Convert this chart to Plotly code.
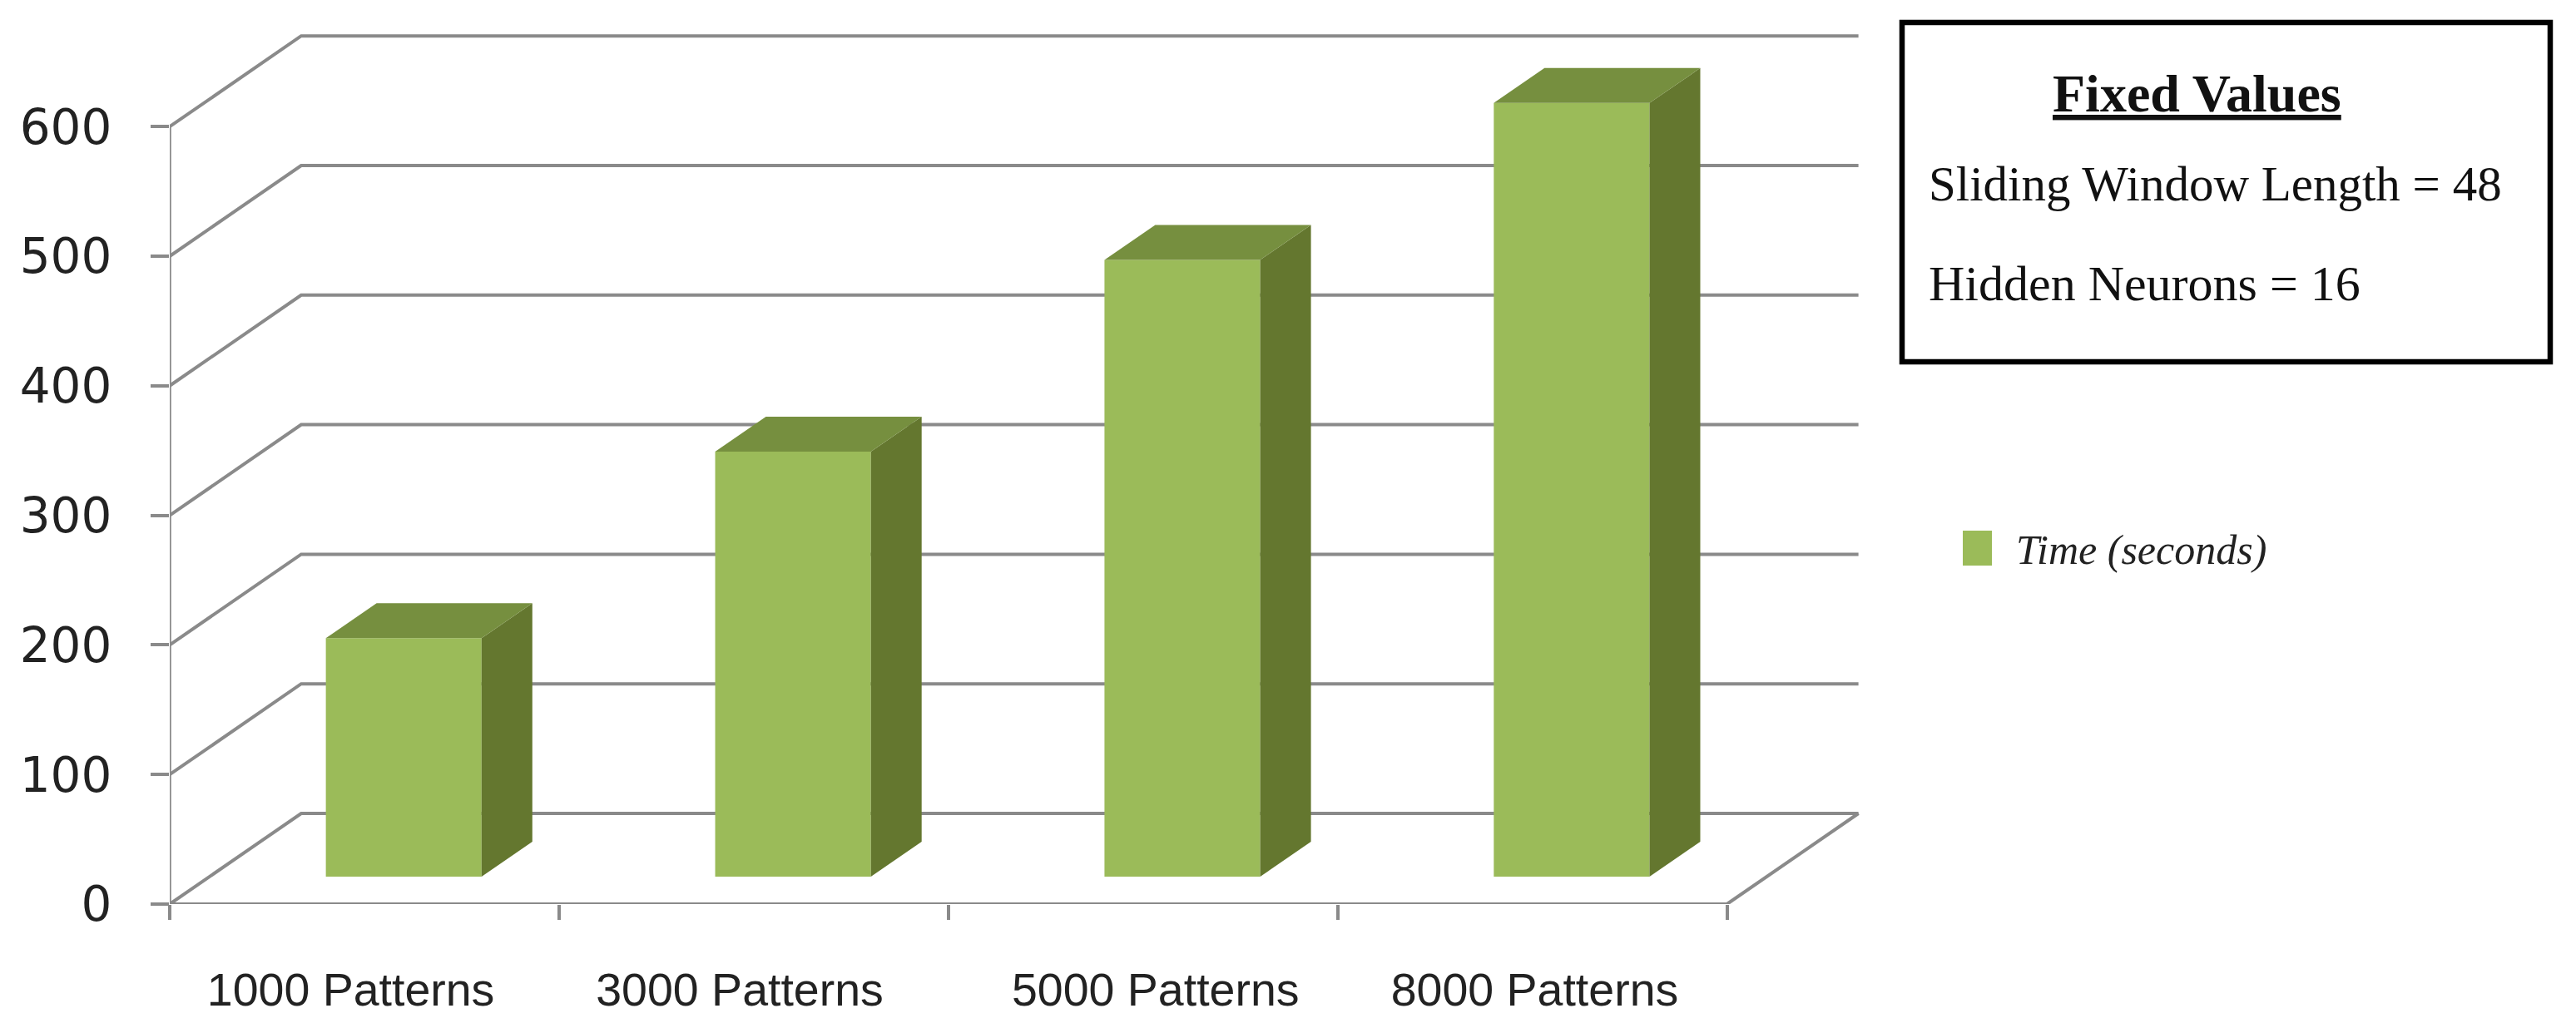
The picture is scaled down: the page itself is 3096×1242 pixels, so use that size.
import plotly.graph_objects as go

categories = ["1000 Patterns", "3000 Patterns", "5000 Patterns", "8000 Patterns"]
times = [184, 328, 476, 597]  # Time (seconds)
y_ticks = [0, 100, 200, 300, 400, 500, 600]
label_shift = [-0.035, -0.036, 0.032, 0.006]  # x labels are not quite centred in the original

WIDTH, HEIGHT = 3096, 1242
LEFT, BOTTOM = 204, 155  # pixel position of the (0, 0) corner
CAT_PX = 467.9  # pixels per category
VAL_PX = 1.558  # pixels per second

# fake 3D: depth of the walls and of the bars, in axis units
WALL_DX, WALL_DY = 158 / CAT_PX, 109 / VAL_PX
BAR_DX, BAR_DY = 61 / CAT_PX, 42 / VAL_PX
BAR_BASE = 33 / VAL_PX
BAR_CENTER, BAR_WIDTH = 0.601, 0.40

GRID = "#8a8a8a"
FRONT, SIDE, TOP = "#9bbb59", "#64772f", "#768f3f"


def paper_x(px):
    return (px - LEFT) / (WIDTH - LEFT)


def paper_y(py):
    return (HEIGHT - BOTTOM - py) / (HEIGHT - BOTTOM)


n = len(categories)
centers = [i + BAR_CENTER for i in range(n)]

# side and top faces, built from the values
side_x, side_y, top_x, top_y = [], [], [], []
for c, v in zip(centers, times):
    x0, x1 = c - BAR_WIDTH / 2, c + BAR_WIDTH / 2
    y0, y1 = BAR_BASE, BAR_BASE + v
    side_x += [x1, x1 + BAR_DX, x1 + BAR_DX, x1, None]
    side_y += [y0, y0 + BAR_DY, y1 + BAR_DY, y1, None]
    top_x += [x0, x0 + BAR_DX, x1 + BAR_DX, x1, None]
    top_y += [y1, y1 + BAR_DY, y1 + BAR_DY, y1, None]

fig = go.Figure()
fig.add_trace(go.Bar(x=centers, y=times, base=BAR_BASE, width=BAR_WIDTH, name="Time (seconds)",
                     marker=dict(color=FRONT, line=dict(width=0)), showlegend=False))
fig.add_trace(go.Scatter(x=side_x, y=side_y, mode="lines", fill="toself", fillcolor=SIDE,
                         line=dict(width=0), hoverinfo="skip", showlegend=False))
fig.add_trace(go.Scatter(x=top_x, y=top_y, mode="lines", fill="toself", fillcolor=TOP,
                         line=dict(width=0), hoverinfo="skip", showlegend=False))

# gridlines go under the bars, so they have to be shapes
shapes = []
for t in y_ticks:
    shapes.append(dict(type="path", layer="below", xref="x", yref="y", line=dict(color=GRID, width=4),
                       path=f"M 0 {t} L {WALL_DX} {t + WALL_DY} L {n + WALL_DX} {t + WALL_DY}"))
# floor and y axis
shapes.append(dict(type="path", layer="below", xref="x", yref="y", line=dict(color=GRID, width=4),
                   path=f"M 0 0 L {n} 0 L {n + WALL_DX} {WALL_DY}"))
shapes.append(dict(type="line", layer="below", xref="x", yref="y", x0=0, x1=0, y0=0, y1=y_ticks[-1],
                   line=dict(color=GRID, width=3.5)))
# text box and legend swatch
shapes.append(dict(type="rect", xref="paper", yref="paper", x0=paper_x(2286), x1=paper_x(3065),
                   y0=paper_y(435), y1=paper_y(27), line=dict(color="black", width=6.5)))
shapes.append(dict(type="rect", xref="paper", yref="paper", x0=paper_x(2359), x1=paper_x(2394),
                   y0=paper_y(680), y1=paper_y(638), fillcolor=FRONT, line=dict(width=0)))

serif = "Liberation Serif"
annotations = [
    dict(text="<b>Fixed Values</b>", x=paper_x(2640), y=paper_y(112), xanchor="center",
         font=dict(family=serif, size=64, color="#111111", lineposition="under")),
    dict(text="Sliding Window Length = 48", x=paper_x(2316), y=paper_y(221), xanchor="left",
         font=dict(family=serif, size=59, color="#111111")),
    dict(text="Hidden Neurons = 16", x=paper_x(2316), y=paper_y(341), xanchor="left",
         font=dict(family=serif, size=60, color="#111111")),
    dict(text="<i>Time (seconds)</i>", x=paper_x(2421), y=paper_y(661), xanchor="left",
         font=dict(family=serif, size=50, color="#222222")),
]
for a in annotations:
    a.update(xref="paper", yref="paper", yanchor="middle", showarrow=False)

fig.update_layout(
    width=WIDTH, height=HEIGHT,
    margin=dict(l=LEFT, r=0, t=0, b=BOTTOM),
    plot_bgcolor="white", paper_bgcolor="white",
    showlegend=False,
    shapes=shapes,
    annotations=annotations,
    xaxis=dict(
        range=[0, (WIDTH - LEFT) / CAT_PX],
        tickvals=[i + 0.5 + s for i, s in enumerate(label_shift)],
        ticktext=categories,
        ticks="outside", ticklen=54, tickcolor="rgba(0,0,0,0)",
        minor=dict(tickvals=list(range(n + 1)), ticks="outside", ticklen=18, tickwidth=3.5, tickcolor=GRID),
        showgrid=False, zeroline=False, showline=False,
        tickfont=dict(family="Liberation Sans", size=55.5, color="#222222"),
    ),
    yaxis=dict(
        range=[0, (HEIGHT - BOTTOM) / VAL_PX],
        tickvals=y_ticks,
        ticks="outside", ticklen=22, tickwidth=4, tickcolor=GRID,
        ticklabelstandoff=35,
        showgrid=False, zeroline=False, showline=False,
        tickfont=dict(family="DejaVu Sans", size=58, color="#222222"),
    ),
)

fig.write_html("out.html", post_script="document.body.style.margin='0';",
               config=dict(displayModeBar=False))
